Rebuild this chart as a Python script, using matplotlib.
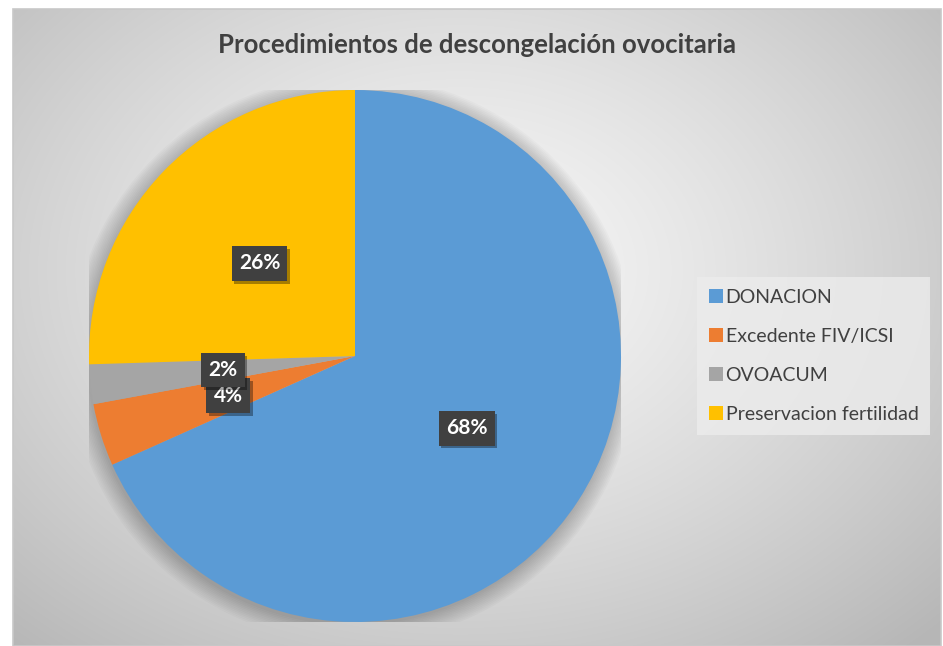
import numpy as np
import matplotlib
matplotlib.use("Agg")
import matplotlib.pyplot as plt
import matplotlib.patheffects as pe
from matplotlib.patches import Rectangle, Circle

# data
categories = ["DONACION", "Excedente FIV/ICSI", "OVOACUM", "Preservacion fertilidad"]
values = [68.3, 3.8, 2.4, 25.5]
colors = ["#5B9BD5", "#ED7D31", "#A5A5A5", "#FFC000"]
title = "Procedimientos de descongelación ovocitaria"

plt.rcParams["font.family"] = ["Lato", "DejaVu Sans"]

W, H = 943, 646
fig = plt.figure(figsize=(W / 100, H / 100), dpi=100)
fig.patch.set_facecolor("white")

# chart area with radial grey gradient
x0, y0, x1, y1 = 13, 9, 941, 646
bg = fig.add_axes([x0 / W, 1 - y1 / H, (x1 - x0) / W, (y1 - y0) / H])
yy, xx = np.mgrid[y0:y1, x0:x1]
cx, cy = 460, 270
d = np.sqrt(((xx - cx) / 560.0) ** 2 + ((yy - cy) / 420.0) ** 2)
g = 0.97 - 0.2 * np.clip(d, 0, 1.2) ** 1.3
bg.imshow(np.dstack([g, g, g]), aspect="auto", extent=[0, 1, 0, 1])
bg.set_axis_off()
fig.patches.append(Rectangle((x0 / W, 0), (x1 - x0) / W, 1 - y0 / H,
                             transform=fig.transFigure, fill=False,
                             edgecolor="#c8c8c8", linewidth=1.2))

# pie
pcx, pcy, r = 355, 356, 266
ax = fig.add_axes([(pcx - r) / W, (H - pcy - r) / H, 2 * r / W, 2 * r / H])
ax.set_axis_off()

# soft shadow around the pie
for i in range(12):
    ax.add_patch(Circle((-0.006, -0.012), 1 + 0.006 * i, color="black",
                        alpha=0.018, linewidth=0, zorder=0))

wedges, texts, autotexts = ax.pie(values, colors=colors, startangle=90,
                                  counterclock=False, autopct="%.0f%%",
                                  pctdistance=0.5, radius=1,
                                  wedgeprops=dict(linewidth=0),
                                  textprops=dict(color="white", fontsize=15,
                                                 fontweight="bold"))
ax.set_xlim(-1, 1)
ax.set_ylim(-1, 1)
for i, t in enumerate(autotexts):
    t.set_bbox(dict(boxstyle="square,pad=0.35", facecolor="#404040",
                    edgecolor="none"))
    t.get_bbox_patch().set_path_effects([
        pe.SimplePatchShadow(offset=(2, -2), shadow_rgbFace="black", alpha=0.35),
        pe.Normal()])
    t.set_zorder(5 + i)

fig.text(477 / W, 1 - 45 / H, title, ha="center", va="center",
         fontsize=18.5, fontweight="bold", color="#404040")

leg = fig.legend(wedges, categories, loc="center left",
                 bbox_to_anchor=(697 / W, 1 - 356 / H), frameon=True,
                 fontsize=14, handlelength=0.75, handleheight=0.75,
                 handletextpad=0.12, labelspacing=1.13, borderpad=0.6,
                 borderaxespad=0, labelcolor="#404040")
leg.get_frame().set_facecolor("#ececec")
leg.get_frame().set_edgecolor("none")
leg.get_frame().set_alpha(0.8)
leg.get_frame().set_boxstyle("square", pad=0)

fig.savefig("out.png", dpi=100)
